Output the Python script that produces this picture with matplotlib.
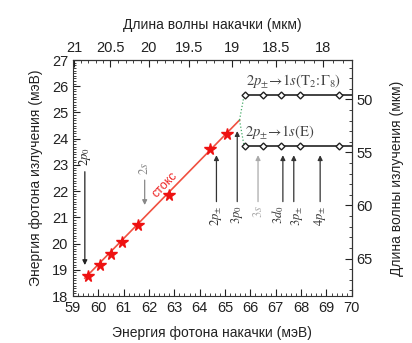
import numpy as np
from matplotlib import pyplot as plt
from matplotlib.ticker import MultipleLocator

plt.rcParams['font.family'] = ['Liberation Sans', 'DejaVu Sans']
plt.rcParams['mathtext.fontset'] = 'stix'

# stokes points (pump energy, emitted energy), meV
pump_e = [59.60, 60.06, 60.50, 60.94, 61.55, 62.78, 64.41, 65.07]
emit_e = [18.77, 19.19, 19.61, 20.05, 20.69, 21.87, 23.61, 24.19]
stokes_x = [59.47, 65.57]
stokes_y = [18.68, 24.71]

# laser lines (diamonds)
diam_x = [65.80, 66.49, 67.19, 67.96, 69.51]
line_t2 = 25.65
line_e = 23.72

# upward arrows with labels
up_names = [r'$2p_{\pm}$', r'$3p_0$', r'$3s$', r'$3d_0$', r'$3p_{\pm}$', r'$4p_{\pm}$']
up_x = [64.66, 65.48, 66.30, 67.28, 67.71, 68.75]
up_tip = [23.37, 24.29, 23.37, 23.37, 23.37, 23.37]
up_col = ['#333333', '#333333', '#aaaaaa', '#333333', '#333333', '#333333']
label_shift = [0, 0, 0, -0.17, 0.12, 0]

# downward arrows
down_names = [r'$2p_0$', r'$2s$']
down_x = [59.47, 61.83]
down_top = [22.74, 22.42]
down_tip = [19.18, 21.47]
down_col = ['#222222', '#888888']

tc = '#222222'


def e2l_pump(e):
    e = np.asarray(e, dtype=float)
    with np.errstate(divide='ignore'):
        return 1239.84 / e


def e2l_emit(e):
    return 50 + (25.50 - np.asarray(e, dtype=float)) / 0.4047


def l2e_emit(l):
    return 25.50 - 0.4047 * (np.asarray(l, dtype=float) - 50)


fig = plt.figure(figsize=(4.12, 3.43), dpi=100)
ax = fig.add_axes([0.177, 0.137, 0.677, 0.688])

ax.plot(stokes_x, stokes_y, '-', color='#f05040', lw=1.2, zorder=2)
ax.plot(pump_e, emit_e, '*', color='#ee1111', markersize=8.5, zorder=3)
ax.text(62.62, 22.23, 'стокс', color='#ee2222', fontsize=9,
        rotation=46, ha='center', va='center')

for y in (line_t2, line_e):
    ax.plot([diam_x[0], 70], [y, y], '-', color='#222222', lw=1.2)
    ax.plot(diam_x, [y] * len(diam_x), 'D', mfc='white', mec='#222222',
            mew=1.0, markersize=3.5, zorder=4)
    ax.plot([stokes_x[1], diam_x[0] - 0.05], [stokes_y[1], y], ':',
            color='#44aa66', lw=0.9)

ax.text(67.7, 26.2, r'$2p_{\pm}\!\rightarrow\!1s(\mathrm{T}_2\!:\!\Gamma_8)$',
        color='#444444', fontsize=10.5, ha='center', va='center')
ax.text(67.15, 24.25, r'$2p_{\pm}\!\rightarrow\!1s(\mathrm{E})$',
        color='#444444', fontsize=10.5, ha='center', va='center')

for name, x, tip, c, dx in zip(up_names, up_x, up_tip, up_col, label_shift):
    ax.annotate('', xy=(x, tip), xytext=(x, 21.6),
                arrowprops=dict(arrowstyle='-|>', color=c, lw=0.9,
                                mutation_scale=7, shrinkA=0, shrinkB=0))
    ax.text(x + dx, 21.45, name, color=c, fontsize=9, rotation=90,
            ha='center', va='top')

for name, x, top, tip, c in zip(down_names, down_x, down_top, down_tip, down_col):
    ax.annotate('', xy=(x, tip), xytext=(x, top),
                arrowprops=dict(arrowstyle='-|>', color=c, lw=0.9,
                                mutation_scale=7, shrinkA=0, shrinkB=0))
    ax.text(x, top + 0.2, name, color=c, fontsize=9, rotation=90,
            ha='center', va='bottom')

ax.set_xlim(59, 70)
ax.set_ylim(18, 27)
ax.xaxis.set_major_locator(MultipleLocator(1))
ax.xaxis.set_minor_locator(MultipleLocator(0.2))
ax.yaxis.set_major_locator(MultipleLocator(1))
ax.yaxis.set_minor_locator(MultipleLocator(0.1))
ax.tick_params(which='both', direction='in', top=False, right=False,
               labelsize=10.5, colors=tc)
ax.tick_params(which='major', length=5)
ax.tick_params(which='minor', length=2.5)
ax.set_xlabel('Энергия фотона накачки (мэВ)', fontsize=10, color=tc, labelpad=8)
ax.set_ylabel('Энергия фотона излучения (мэВ)', fontsize=10, color=tc, labelpad=6)

top = ax.secondary_xaxis('top', functions=(e2l_pump, e2l_pump))
top.xaxis.set_major_locator(MultipleLocator(0.5))
top.xaxis.set_minor_locator(MultipleLocator(0.1))
top.tick_params(which='both', direction='in', labelsize=10.5, colors=tc)
top.tick_params(which='major', length=5)
top.tick_params(which='minor', length=2.5)
top.set_xticks([21, 20.5, 20, 19.5, 19, 18.5, 18])
top.set_xticklabels(['21', '20.5', '20', '19.5', '19', '18.5', '18'])
top.set_xlabel('Длина волны накачки (мкм)', fontsize=10, color=tc, labelpad=9)

right = ax.secondary_yaxis('right', functions=(e2l_emit, l2e_emit))
right.yaxis.set_major_locator(MultipleLocator(5))
right.yaxis.set_minor_locator(MultipleLocator(1))
right.tick_params(which='both', direction='in', labelsize=10.5, colors=tc)
right.tick_params(which='major', length=5)
right.tick_params(which='minor', length=2.5)
right.set_ylabel('Длина волны излучения (мкм)', fontsize=10, color=tc, labelpad=12)

for sp in ax.spines.values():
    sp.set_color('#333333')

fig.savefig('out.png', dpi=100)
